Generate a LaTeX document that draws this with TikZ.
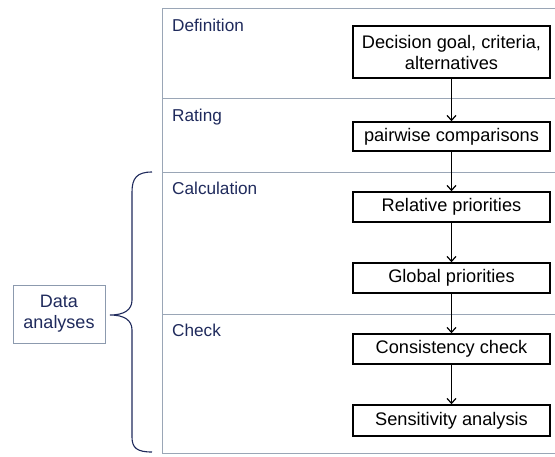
\documentclass[tikz,border=0pt]{standalone}
\usepackage{fontspec}
\setmainfont{Liberation Sans}
\usetikzlibrary{arrows.meta}
\definecolor{navy}{HTML}{1F2A5C}
\definecolor{tline}{HTML}{9AA6B6}
\definecolor{dbox}{HTML}{8C9AAE}
\tikzset{
  stepbox/.style={draw=black, line width=1.5pt, fill=white, minimum width=197pt, align=center, font=\fontsize{18.2}{21}\selectfont, inner sep=0pt, text=black},
  phase/.style={anchor=west, text=navy, font=\fontsize{17.2}{21}\selectfont, inner sep=0pt},
  flow/.style={draw=black, line width=1.2pt, -{Straight Barb[length=5pt,width=9pt,line width=1.2pt]}}
}
\begin{document}
\begin{tikzpicture}[x=1pt,y=-1pt]
\useasboundingbox (0,0) rectangle (555,456);
% table
\draw[tline, line width=1pt] (560,8) -- (162,8) -- (162,453) -- (560,453);
\draw[tline, line width=1pt] (162,98) -- (560,98);
\draw[tline, line width=1pt] (162,172) -- (560,172);
\draw[tline, line width=1pt] (162,314) -- (560,314);
% phase labels
\node[phase] (defl) at (172,25) {Definition};
\node[phase] (ratl) at (172,117) {Rating};
\node[phase] (call) at (172,188) {Calculation};
\node[phase] (chkl) at (172,330) {Check};
% boxes
\node[stepbox, minimum height=52pt] (b1) at (451.5,52) {Decision goal, criteria,\\alternatives};
\node[stepbox, minimum height=29pt] (b2) at (451.5,136.5) {pairwise comparisons};
\node[stepbox, minimum height=30pt] (b3) at (451.5,207) {Relative priorities};
\node[stepbox, minimum height=30pt] (b4) at (451.5,278) {Global priorities};
\node[stepbox, minimum height=30pt] (b5) at (451.5,349) {Consistency check};
\node[stepbox, minimum height=31pt] (b6) at (451.5,420.5) {Sensitivity analysis};
% arrows
\draw[flow] (b1) -- (b2);
\draw[flow] (b2) -- (b3);
\draw[flow] (b3) -- (b4);
\draw[flow] (b4) -- (b5);
\draw[flow] (b5) -- (b6);
% data analyses
\node[draw=dbox, fill=white, line width=0.9pt, minimum width=92pt, minimum height=58pt, align=center, text=navy, font=\fontsize{18}{21}\selectfont, inner sep=0pt] (da) at (59,314) {Data\\analyses};
\coordinate (tip) at (110,315);
\draw[navy, line width=1.1pt] (152,172) .. controls (137,172) and (132,178) .. (132,192) -- (132,300) .. controls (132,310) and (124,315) .. (tip) .. controls (124,315) and (132,320) .. (132,330) -- (132,437) .. controls (132,448) and (137,452) .. (152,452);
\end{tikzpicture}
\end{document}
